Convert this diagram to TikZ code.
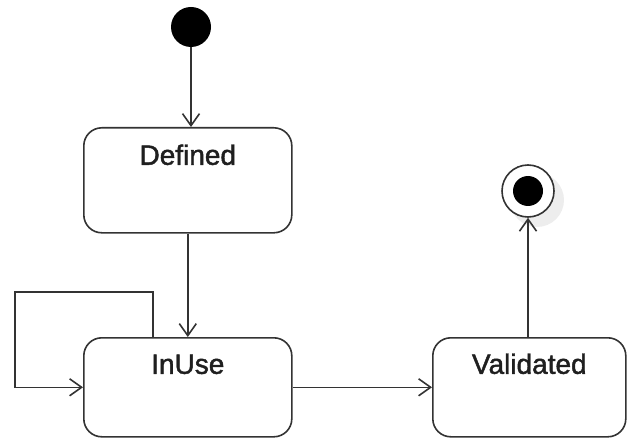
\documentclass[tikz,border=0pt]{standalone}
\usepackage{fontspec}
\setmainfont{Liberation Sans}
\newfontfamily\lblfont{Liberation Sans}[FakeBold=1.6]
\usetikzlibrary{arrows.meta}
\begin{document}
\begin{tikzpicture}[x=1pt,y=-1pt,
  ln/.style={draw=black!80, line width=1.6pt},
  state/.style={ln, rounded corners=18pt, fill=white, inner sep=0pt, anchor=north west,
    font=\lblfont\fontsize{28}{30}\selectfont, text=black!88},
  arr/.style={ln, -{Straight Barb[length=12pt,width=17pt,line width=1.6pt]}}]
\useasboundingbox (0,0) rectangle (628,438);
\node[state, minimum width=208pt, text height=37pt, text depth=68pt] (defined) at (83,127) {Defined};
\node[state, minimum width=208pt, text height=36pt, text depth=63pt] (inuse) at (83,337) {InUse};
\node[state, minimum width=193pt, text height=36pt, text depth=63pt] (validated) at (432,337) {Validated};
\node[circle, fill=black, minimum size=40pt, inner sep=0pt] (init) at (191,27) {};
\node[circle, fill=black!7, minimum size=54pt, inner sep=0pt] (shadow) at (537,200) {};
\node[circle, ln, fill=white, minimum size=52pt, inner sep=0pt] (final) at (528,191) {};
\node[circle, fill=black, minimum size=30pt, inner sep=0pt] (finaldot) at (final) {};
\coordinate (lp) at (153,0);
\draw[arr] (init) -- (init |- defined.north);
\draw[arr] (defined.south) -- (inuse.north -| defined.south);
\draw[arr] (inuse.north -| lp) |- (15,292) |- (inuse.west);
\draw[arr] (inuse.east) -- (validated.west);
\draw[arr] (validated.north -| final) -- (final.south);
\end{tikzpicture}
\end{document}
